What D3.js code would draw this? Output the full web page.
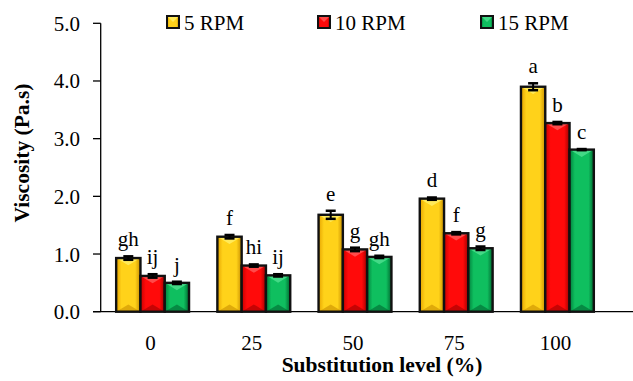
<!DOCTYPE html>
<html>
<head>
<meta charset="utf-8">
<script src="https://cdn.jsdelivr.net/npm/d3@7"></script>
<style>
  body { margin: 0; background: #fff; }
</style>
</head>
<body>
<svg id="chart" width="633" height="381" font-family="'Liberation Serif', 'Times New Roman', serif"></svg>
<script>
// data
const levels = ["0", "25", "50", "75", "100"];
const series = ["5 RPM", "10 RPM", "15 RPM"];
const rpm5 = [0.93, 1.30, 1.68, 1.96, 3.90];
const rpm10 = [0.62, 0.80, 1.08, 1.36, 3.27];
const rpm15 = [0.50, 0.63, 0.95, 1.10, 2.81];
const err5 = [0.03, 0.03, 0.07, 0.02, 0.06];
const err10 = [0.03, 0.02, 0.03, 0.02, 0.02];
const err15 = [0.02, 0.02, 0.02, 0.03, 0.01];
const letters5 = ["gh", "f", "e", "d", "a"];
const letters10 = ["ij", "hi", "g", "f", "b"];
const letters15 = ["j", "ij", "gh", "g", "c"];
const yTicks = [0, 1, 2, 3, 4, 5];

const colors = [
  { mid: "#ffd21a", edge: "#e6a400", light: "#fff06a", dark: "#c98f00" },
  { mid: "#ff0a0a", edge: "#c80000", light: "#ff5a5a", dark: "#a00000" },
  { mid: "#0fbf5f", edge: "#00803c", light: "#50e090", dark: "#006830" }
];

const vals = [rpm5, rpm10, rpm15];
const errs = [err5, err10, err15];
const lets = [letters5, letters10, letters15];
const FS = 21;

const svg = d3.select("#chart");
const defs = svg.append("defs");
colors.forEach((c, i) => {
  const g = defs.append("linearGradient").attr("id", "grad" + i)
    .attr("x1", "0%").attr("x2", "100%").attr("y1", "0%").attr("y2", "0%");
  g.append("stop").attr("offset", "0%").attr("stop-color", c.edge);
  g.append("stop").attr("offset", "22%").attr("stop-color", c.mid);
  g.append("stop").attr("offset", "78%").attr("stop-color", c.mid);
  g.append("stop").attr("offset", "100%").attr("stop-color", c.dark);
});

const y = d3.scaleLinear().domain([0, 5]).range([311.7, 23.3]);
const x0 = d3.scaleBand().domain(levels).range([102, 608]).paddingInner(0.28).paddingOuter(0.14);
const x1 = d3.scaleBand().domain(series).range([0, x0.bandwidth()]);

// axes
svg.append("line").attr("x1", 93).attr("x2", 633).attr("y1", y(0)).attr("y2", y(0))
  .attr("stroke", "#000").attr("stroke-width", 1.3);
svg.append("line").attr("x1", 100.7).attr("x2", 100.7).attr("y1", y(0)).attr("y2", y(5))
  .attr("stroke", "#000").attr("stroke-width", 1.3);
svg.selectAll(".ytick").data(yTicks).enter().append("line")
  .attr("x1", 93).attr("x2", 100.7)
  .attr("y1", d => y(d)).attr("y2", d => y(d))
  .attr("stroke", "#000").attr("stroke-width", 1.3);
svg.selectAll(".ylab").data(yTicks).enter().append("text")
  .attr("x", 80).attr("y", d => y(d) + 7.5)
  .attr("text-anchor", "end").attr("font-size", FS)
  .text(d => d3.format(".1f")(d));
svg.selectAll(".xlab").data(levels).enter().append("text")
  .attr("x", d => x0(d) + x0.bandwidth() / 2 - 2).attr("y", 350)
  .attr("text-anchor", "middle").attr("font-size", FS)
  .text(d => d);

svg.append("text").attr("x", 382).attr("y", 372)
  .attr("text-anchor", "middle").attr("font-size", 21.5).attr("font-weight", "bold")
  .text("Substitution level (%)");
svg.append("text").attr("transform", "translate(29,153) rotate(-90)")
  .attr("text-anchor", "middle").attr("font-size", 21.5).attr("font-weight", "bold")
  .text("Viscosity (Pa.s)");

// bars
series.forEach((s, si) => {
  const c = colors[si];
  const g = svg.append("g");
  levels.forEach((lv, li) => {
    const bx = x0(lv) + x1(s);
    const bw = x1.bandwidth();
    const top = y(vals[si][li]);
    const bot = y(0);
    g.append("rect").attr("x", bx).attr("y", top).attr("width", bw).attr("height", bot - top)
      .attr("fill", "url(#grad" + si + ")");
    // bevel highlights
    const tri = Math.min(bw * 0.3, (bot - top) / 2);
    g.append("path")
      .attr("d", `M${bx},${top}L${bx + bw},${top}L${bx + bw / 2},${top + tri}Z`)
      .attr("fill", c.light).attr("opacity", 0.8);
    g.append("path")
      .attr("d", `M${bx},${bot}L${bx + bw},${bot}L${bx + bw / 2},${bot - tri}Z`)
      .attr("fill", c.dark).attr("opacity", 0.6);
    g.append("rect").attr("x", bx).attr("y", top).attr("width", bw).attr("height", bot - top)
      .attr("fill", "none").attr("stroke", "#111").attr("stroke-width", 2.4);

    // error bar
    const cx = bx + bw / 2;
    const e1 = y(vals[si][li] + errs[si][li]);
    const e2 = y(vals[si][li] - errs[si][li]);
    g.append("line").attr("x1", cx).attr("x2", cx).attr("y1", e1).attr("y2", e2)
      .attr("stroke", "#000").attr("stroke-width", 2);
    [e1, e2].forEach(ey => {
      g.append("line").attr("x1", cx - 5).attr("x2", cx + 5).attr("y1", ey).attr("y2", ey)
        .attr("stroke", "#000").attr("stroke-width", 2.5);
    });

    g.append("text").attr("x", cx).attr("y", e1 - 10)
      .attr("text-anchor", "middle").attr("font-size", FS)
      .text(lets[si][li]);
  });
});

// legend
const legX = [167, 318, 481];
series.forEach((s, i) => {
  const c = colors[i];
  const lg = svg.append("g").attr("transform", `translate(${legX[i]},16)`);
  lg.append("rect").attr("width", 12).attr("height", 12)
    .attr("fill", "url(#grad" + i + ")").attr("stroke", "#111").attr("stroke-width", 2);
  lg.append("path").attr("d", "M1,1L11,1L6,6Z").attr("fill", c.light).attr("opacity", 0.8);
  lg.append("text").attr("x", 17).attr("y", 14).attr("font-size", FS).text(s);
});
</script>
</body>
</html>
